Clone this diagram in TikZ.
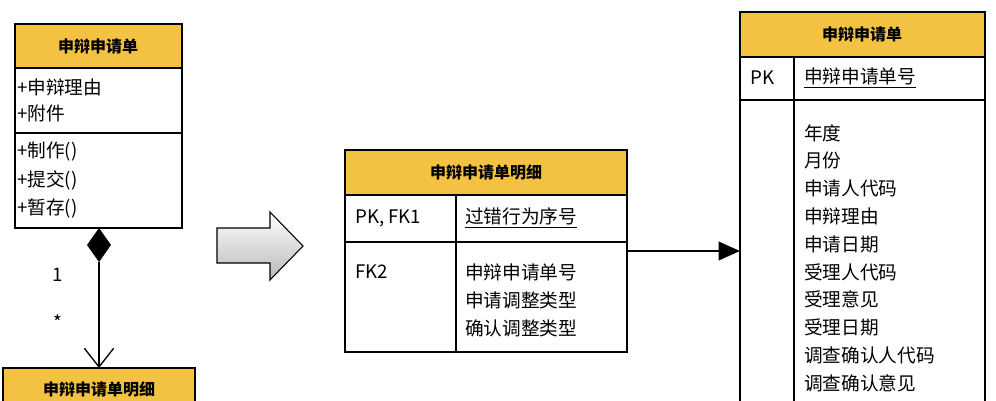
\documentclass[tikz,border=0pt]{standalone}
\usepackage{fontspec}
\setmainfont{Noto Sans CJK SC}
\newfontfamily\cjk{Noto Sans CJK SC}
\usetikzlibrary{arrows.meta}
\definecolor{hdr}{HTML}{F4C242}
\tikzset{
  box/.style={draw, line width=1pt},
  head/.style={box, fill=hdr},
  txt/.style={anchor=west, inner sep=0pt, font=\fontsize{14}{16}\selectfont},
  hdrtxt/.style={inner sep=0pt, font=\fontsize{12}{14}\selectfont\bfseries},
}
\begin{document}
\begin{tikzpicture}[x=0.75pt,y=-0.75pt]
                \useasboundingbox (0,0) rectangle (996,400);
                % class
                \draw[head] (15,24) rectangle (182,68);
                \draw[box] (15,68) rectangle (182,133);
                \draw[box] (15,133) rectangle (182,228);
                \node[hdrtxt] at (98,46) {申辩申请单};
                \node[txt] at (17,87) {+申辩理由};
                \node[txt] at (17,113) {+附件};
                \node[txt] at (17,152) {+制作()};
                \node[txt] at (17,180) {+提交()};
                \node[txt] at (17,208) {+暂存()};
            
                \coordinate (dtop) at (99,228);
                \coordinate (dbot) at (99,262);
                \coordinate (ctop) at (99,368);
                \fill (dtop)--(111,245)--(dbot)--(87,245)--cycle;
                \draw[line width=1pt, -{Straight Barb[length=14pt,width=22pt]}] (dbot)--(ctop);
                \node[txt, anchor=center] at (58,275) {1};
                \node[txt, anchor=center] at (58,322) {*};
            
                \draw[head] (3,368) rectangle (195,410);
                \node[hdrtxt] at (99,389) {申辩申请单明细};
            
                % block arrow
                \draw[line width=0.8pt, top color=white, bottom color=gray!55]
                    (217,228)--(270,228)--(270,212)--(303,246)--(270,280)--(270,263)--(217,263)--cycle;
            
                % detail table
                \draw[head] (345,150) rectangle (627,195);
                \draw[box] (345,195) rectangle (627,242);
                \draw[box] (345,242) rectangle (627,352);
                \draw[box] (456,195)--(456,352);
                \node[hdrtxt] at (486,172) {申辩申请单明细};
                \node[txt] at (355,218) {PK, FK1};
                \node[txt] at (465,218) {\underline{过错行为序号}};
                \node[txt] at (355,272) {FK2};
                \node[txt] at (465,272) {申辩申请单号};
                \node[txt] at (465,300) {申请调整类型};
                \node[txt] at (465,328) {确认调整类型};
            
                % main table
                \draw[head] (740,12) rectangle (985,57);
                \draw[box] (740,57) rectangle (985,100);
                \draw[box] (740,100) rectangle (985,410);
                \draw[box] (794,57)--(794,410);
                \node[hdrtxt] at (862,34) {申辩申请单};
                \node[txt] at (750,78) {PK};
                \node[txt] at (804,78) {\underline{申辩申请单号}};
                \foreach \t [count=\i from 0] in {年度,月份,申请人代码,申辩理由,申请日期,受理人代码,受理意见,受理日期,调查确认人代码,调查确认意见}
                    \node[txt] at (804,133+27.8*\i) {\t};
            
                \coordinate (src) at (627,251);
                \coordinate (dst) at (740,251);
                \draw[line width=1.2pt, -{Triangle[length=16pt,width=14pt]}] (src)--(dst);
            \end{tikzpicture}
\end{document}
